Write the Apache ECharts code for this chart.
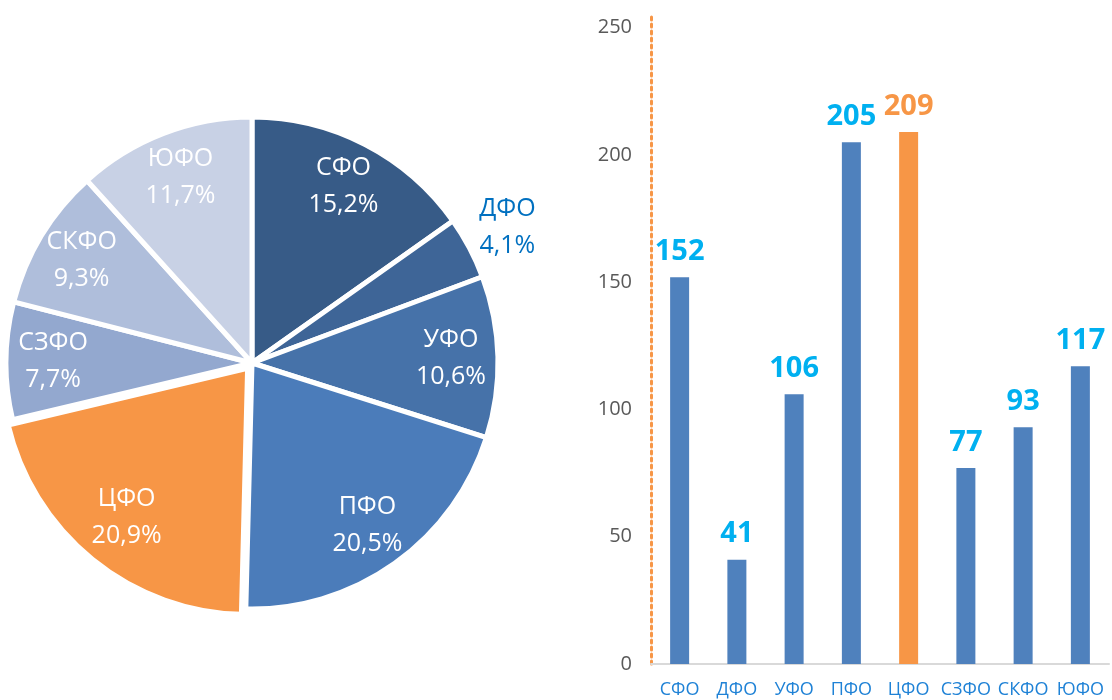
<!DOCTYPE html>
<html>
<head>
    <meta charset="utf-8">
    <title>Федеральные округа</title>
    <style type="text/css">
        html, body { margin: 0; padding: 0; background: #fff; }
        #main { width: 1112px; height: 700px; }
    </style>
    <script src="https://cdn.jsdelivr.net/npm/echarts@6/dist/echarts.min.js"></script>
</head>
<body>
    <div id="main"></div>
    <script type="text/javascript">
// данные
var regions = ['СФО', 'ДФО', 'УФО', 'ПФО', 'ЦФО', 'СЗФО', 'СКФО', 'ЮФО'];
var shares = [15.2, 4.1, 10.6, 20.5, 20.9, 7.7, 9.3, 11.7];   // %
var counts = [152, 41, 106, 205, 209, 77, 93, 117];
var yMax = 250, yStep = 50;
var highlight = 'ЦФО';        // выделенный округ
var outsideLabel = 'ДФО';     // подпись снаружи круга

// цвета секторов
var sliceColors = ['#375b87', '#3e6597', '#4672a9', '#4b7cba', '#f79646', '#93a8cf', '#afbedb', '#c8d1e5'];
var FONT = '"Open Sans", sans-serif';

var myChart = echarts.init(document.getElementById('main'));

function pct(v) {
    return v.toFixed(1).replace('.', ',') + '%';
}

// сектора
var pieData = regions.map(function (name, i) {
    return {
        name: name,
        value: shares[i],
        selected: name === highlight,
        itemStyle: { color: sliceColors[i] }
    };
});
// прозрачные кольца только для подписей
var labelData = regions.map(function (name, i) {
    return { name: name, value: shares[i], label: { show: name !== outsideLabel } };
});
var outerLabelData = regions.map(function (name, i) {
    return { name: name, value: shares[i], label: { show: name === outsideLabel } };
});

var pieLabel = {
    position: 'inside',
    color: '#fff',
    fontFamily: FONT,
    fontSize: 25,
    lineHeight: 37,
    formatter: function (p) { return p.name + '\n' + pct(p.value); }
};

var option = {
    animation: false,
    grid: {
        left: 651,
        right: 3,
        top: 15,
        bottom: 36
    },
    xAxis: {
        type: 'category',
        data: regions,
        axisLine: { lineStyle: { color: '#d9d9d9', width: 2 } },
        axisTick: { show: false },
        axisLabel: {
            interval: 0,
            margin: 17,
            color: '#1f82d6',
            fontFamily: FONT,
            fontSize: 18
        }
    },
    yAxis: {
        type: 'value',
        min: 0,
        max: 255,
        interval: yStep,
        axisLine: {
            show: true,
            lineStyle: { color: '#f79646', width: 3, type: [3, 4] }
        },
        axisTick: { show: false },
        splitLine: { show: false },
        axisLabel: {
            margin: 19,
            color: '#595959',
            fontFamily: FONT,
            fontSize: 20,
            showMaxLabel: false,
            formatter: function (v) { return v <= yMax ? String(v) : ''; }
        }
    },
    series: [
        {
            type: 'pie',
            center: [252, 363],
            radius: 246,
            startAngle: 90,
            clockwise: true,
            selectedMode: 'single',
            selectedOffset: 7,
            silent: true,
            itemStyle: { borderColor: '#fff', borderWidth: 5 },
            select: { itemStyle: { borderColor: '#fff', borderWidth: 5 } },
            label: { show: false },
            labelLine: { show: false },
            emphasis: { disabled: true },
            data: pieData
        },
        {
            type: 'pie',
            center: [252, 363],
            radius: [146, 246],
            startAngle: 90,
            silent: true,
            itemStyle: { color: 'transparent', borderWidth: 0 },
            label: pieLabel,
            labelLine: { show: false },
            emphasis: { disabled: true },
            data: labelData
        },
        {
            type: 'pie',
            center: [252, 363],
            radius: [246, 326],
            startAngle: 90,
            silent: true,
            itemStyle: { color: 'transparent', borderWidth: 0 },
            label: Object.assign({}, pieLabel, { color: '#0070c0' }),
            labelLine: { show: false },
            emphasis: { disabled: true },
            data: outerLabelData
        },
        {
            type: 'bar',
            barWidth: 19,
            silent: true,
            data: counts.map(function (v, i) {
                var hl = regions[i] === highlight;
                return {
                    value: v,
                    itemStyle: { color: hl ? '#f79646' : '#4f81bd' },
                    label: { color: hl ? '#f79646' : '#00b0f0' }
                };
            }),
            label: {
                show: true,
                position: 'top',
                distance: 11,
                fontFamily: FONT,
                fontWeight: 'bold',
                fontSize: 29
            }
        }
    ]
};

myChart.setOption(option);
    </script>
</body>
</html>
